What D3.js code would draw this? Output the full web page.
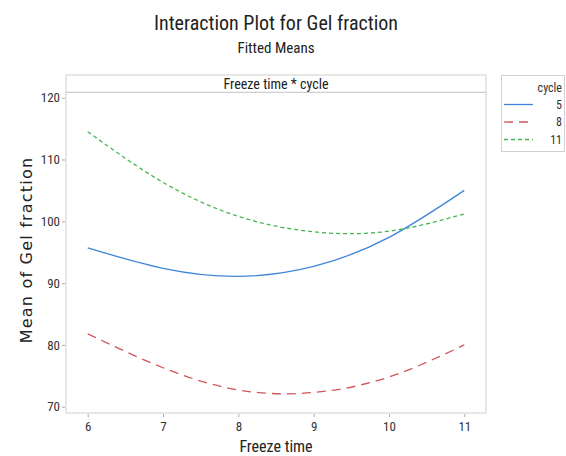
<!DOCTYPE html>
<html>
<head>
<meta charset="utf-8">
<script src="https://cdn.jsdelivr.net/npm/d3@7"></script>
<style>
  body { margin: 0; background: #fff; }
  text { font-family: "Liberation Sans Narrow", "Roboto Condensed", Roboto, sans-serif; fill: #333; }
</style>
</head>
<body>
<div id="chart"></div>
<script>
// data (fitted means)
var freezeTimes = [6, 7, 8, 9, 10, 11];
var cycles = ["5", "8", "11"];
var cycle5 = [95.7, 92.4, 91.1, 92.7, 97.4, 105.0];
var cycle8 = [81.8, 76.3, 72.7, 72.3, 74.8, 80.0];
var cycle11 = [114.5, 106.3, 100.8, 98.3, 98.4, 101.2];
var yTicks = [70, 80, 90, 100, 110, 120];

var svgWidth = 566;
var svgHeight = 456;

var svg = d3.select("#chart")
  .append("svg")
  .attr("width", svgWidth)
  .attr("height", svgHeight);

// panel box
var box = { left: 66, right: 486, top: 75, strip: 92.3, bottom: 413 };

var xScale = d3.scaleLinear().domain([6, 11]).range([87.7, 464.3]);
var yScale = d3.scaleLinear().domain([70, 120]).range([406.7, 97.7]);

// titles
svg.append("text")
  .attr("x", 276).attr("y", 30)
  .attr("text-anchor", "middle")
  .attr("font-size", "20px")
  .style("fill", "#222")
  .text("Interaction Plot for Gel fraction");

svg.append("text")
  .attr("x", 276).attr("y", 53)
  .attr("text-anchor", "middle")
  .attr("font-size", "15px")
  .style("fill", "#222")
  .text("Fitted Means");

// outer panel + strip
svg.append("rect")
  .attr("x", box.left).attr("y", box.top)
  .attr("width", box.right - box.left).attr("height", box.bottom - box.top)
  .attr("fill", "none").attr("stroke", "#cfcfcf");

svg.append("line")
  .attr("x1", box.left).attr("x2", box.right)
  .attr("y1", box.strip).attr("y2", box.strip)
  .attr("stroke", "#c4c4c4");

svg.append("text")
  .attr("x", 276).attr("y", 88.5)
  .attr("text-anchor", "middle")
  .attr("font-size", "14px")
  .style("fill", "#222")
  .text("Freeze time * cycle");

// axes
var leftAxis = d3.axisLeft(yScale).tickValues(yTicks).tickSize(3).tickPadding(2);
var bottomAxis = d3.axisBottom(xScale).tickValues(freezeTimes)
  .tickFormat(d3.format("d")).tickSize(3).tickPadding(5);

var yAxis = svg.append("g")
  .attr("transform", `translate(${box.left - 1},0)`)
  .call(leftAxis);

var xAxis = svg.append("g")
  .attr("transform", `translate(0,${box.bottom + 1})`)
  .call(bottomAxis);

[yAxis, xAxis].forEach(function(a) {
  a.select(".domain").remove();
  a.selectAll(".tick line").attr("stroke", "#aaa");
  a.selectAll(".tick text")
    .attr("font-size", "13px")
    .style("fill", "#333")
    .style("font-family", "'Liberation Sans Narrow', 'Roboto Condensed', Roboto, sans-serif");
});

// axis labels
svg.append("text")
  .attr("x", 276).attr("y", 452)
  .attr("text-anchor", "middle")
  .attr("font-size", "16px")
  .style("fill", "#222")
  .text("Freeze time");

svg.append("text")
  .attr("transform", "translate(32,250) rotate(-90)")
  .attr("text-anchor", "middle")
  .attr("font-size", "16px")
  .attr("letter-spacing", "1.2px")
  .style("font-family", "'DejaVu Sans', sans-serif")
  .style("fill", "#222")
  .text("Mean of Gel fraction");

// lines
var series = [
  { name: "5", values: cycle5, color: "#3f86d9", dash: null },
  { name: "8", values: cycle8, color: "#d2555a", dash: "9,6" },
  { name: "11", values: cycle11, color: "#45b553", dash: "4,3" }
];

var line = d3.line()
  .x(function(d, i) { return xScale(freezeTimes[i]); })
  .y(function(d) { return yScale(d); })
  .curve(d3.curveNatural);

svg.selectAll(".series")
  .data(series)
  .enter()
  .append("path")
  .attr("class", "series")
  .attr("d", d => line(d.values))
  .attr("fill", "none")
  .attr("stroke", d => d.color)
  .attr("stroke-width", 1.3)
  .attr("stroke-dasharray", d => d.dash);

// legend
var legend = svg.append("g");

legend.append("rect")
  .attr("x", 501.5).attr("y", 75.5)
  .attr("width", 63).attr("height", 76)
  .attr("fill", "none").attr("stroke", "#d0d0d0");

legend.append("text")
  .attr("x", 562).attr("y", 92)
  .attr("text-anchor", "end")
  .attr("font-size", "12px")
  .text("cycle");

var legendRows = legend.selectAll(".row")
  .data(series)
  .enter()
  .append("g")
  .attr("class", "row")
  .attr("transform", (d, i) => `translate(0,${104.5 + i * 17.5})`);

legendRows.append("line")
  .attr("x1", 504).attr("x2", 533)
  .attr("y1", 0).attr("y2", 0)
  .attr("stroke", d => d.color)
  .attr("stroke-width", 1.3)
  .attr("stroke-dasharray", d => d.dash);

legendRows.append("text")
  .attr("x", 562).attr("y", 4)
  .attr("text-anchor", "end")
  .attr("font-size", "12px")
  .text(d => d.name);
</script>
</body>
</html>
